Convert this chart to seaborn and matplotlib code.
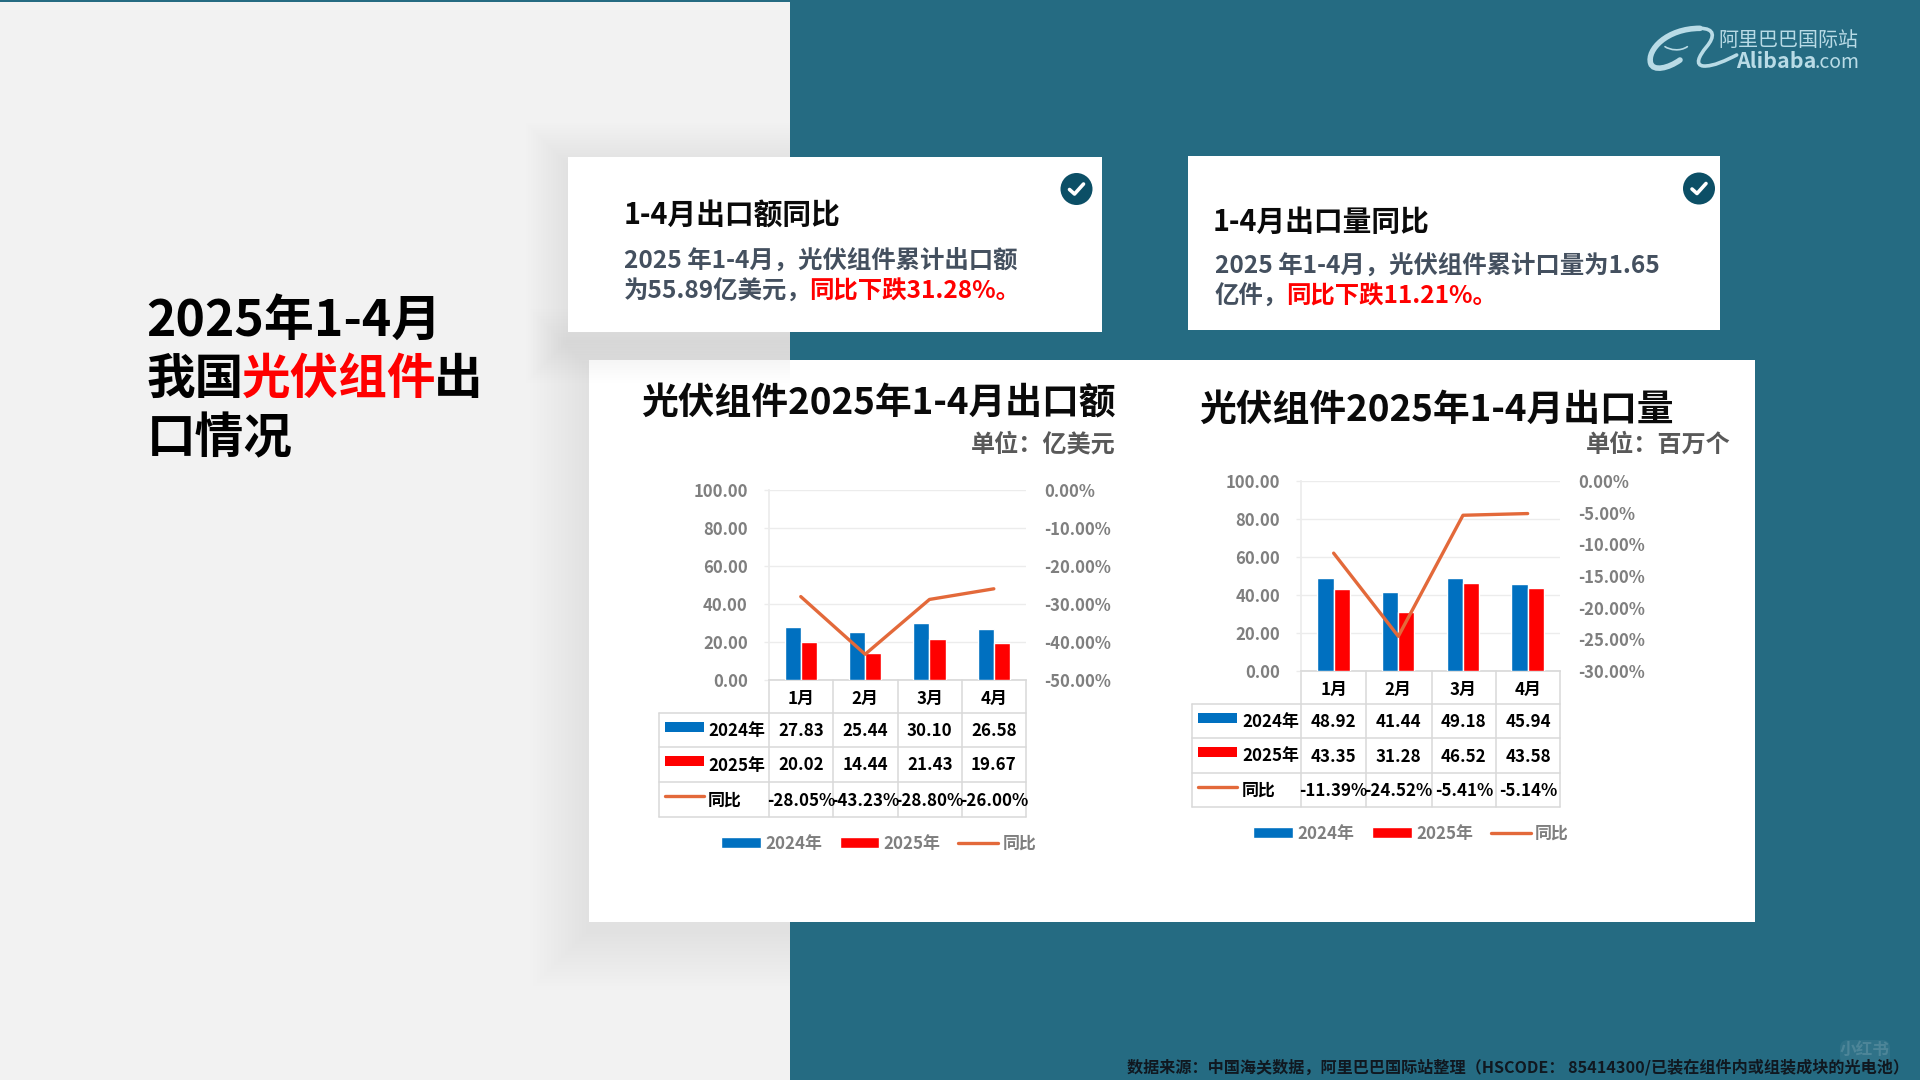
import pandas as pd
import matplotlib.pyplot as plt
import seaborn as sns
from matplotlib.patches import Rectangle, Circle, PathPatch, FancyBboxPatch
from matplotlib.path import Path

# data
months = ["1月", "2月", "3月", "4月"]
years = ["2024年", "2025年"]
yoy_name = "同比"

amount_2024 = [27.83, 25.44, 30.10, 26.58]
amount_2025 = [20.02, 14.44, 21.43, 19.67]
amount_yoy = [-28.05, -43.23, -28.80, -26.00]
amount_right_ticks = [0, -10, -20, -30, -40, -50]

volume_2024 = [48.92, 41.44, 49.18, 45.94]
volume_2025 = [43.35, 31.28, 46.52, 43.58]
volume_yoy = [-11.39, -24.52, -5.41, -5.14]
volume_right_ticks = [0, -5, -10, -15, -20, -25, -30]

left_ticks = [0, 20, 40, 60, 80, 100]

BLUE = "#0070c0"
RED = "#ff0000"
ORANGE = "#e3693a"
TEAL = "#256b82"
GRID = "#ececec"
BORDER = "#d9d9d9"
GREY = "#7f7f7f"

W, H = 1920, 1080

sns.set_theme(style="white")
plt.rcParams["font.family"] = ["Noto Sans CJK SC", "DejaVu Sans"]

fig = plt.figure(figsize=(19.2, 10.8), dpi=100)

# whole-slide layer in pixel coordinates
bg = fig.add_axes([0, 0, 1, 1], zorder=0)
bg.set_xlim(0, W)
bg.set_ylim(H, 0)
bg.axis("off")

bg.add_patch(Rectangle((0, 0), W, H, color=TEAL, lw=0))
bg.add_patch(Rectangle((0, 2), 790, H, color="#f2f2f2", lw=0))
left_half = Rectangle((0, 0), 790, H, transform=bg.transData)


def card(x0, y0, x1, y1, spread=3, alpha=0.005):
    # soft shadow (only shows on the light half) then the white panel
    for i in range(1, 18):
        e = i * spread
        sh = bg.add_patch(Rectangle((x0 - e, y0 - e + 8), x1 - x0 + 2 * e, y1 - y0 + 2 * e,
                                    color="black", alpha=alpha, lw=0))
        sh.set_clip_path(left_half)
    bg.add_patch(Rectangle((x0, y0), x1 - x0, y1 - y0, color="white", lw=0))


def check_icon(cx, cy):
    bg.add_patch(Circle((cx, cy), 16, color="#0c4f66", lw=0))
    bg.plot([cx - 7, cx - 2, cx + 7], [cy + 0.5, cy + 5, cy - 5], color="white", lw=2.6,
            solid_capstyle="round", solid_joinstyle="round")


card(589, 360, 1755, 922, spread=3.5)
card(568, 157, 1102, 332, spread=2.5)
card(1188, 156, 1720, 330, spread=2.5)
check_icon(1076.5, 189)
check_icon(1699, 188.5)

# left heading
head = dict(fontsize=35, fontweight="bold", va="center", ha="left")
bg.text(146, 321.5, "2025年1-4月", color="black", fontsize=36, fontweight="bold", va="center", ha="left")
bg.text(146.5, 379.5, "我国", color="black", **head)
bg.text(242, 379.5, "光伏组件", color=RED, **head)
bg.text(434, 379.5, "出", color="black", **head)
bg.text(146.5, 438.5, "口情况", color="black", **head)

# text cards
card_title = dict(fontsize=20.7, fontweight="bold", va="center", ha="left", color="#0a0a0a")
card_body = dict(fontsize=17.6, fontweight="bold", va="center", ha="left", color="#44505f")
card_red = dict(fontsize=17.6, fontweight="bold", va="center", ha="left", color=RED)

bg.text(624, 214.5, "1-4月出口额同比", **card_title)
bg.text(624, 262, "2025 年1-4月，光伏组件累计出口额", **card_body)
bg.text(624, 292, "为55.89亿美元，", **card_body)
bg.text(809, 292, "同比下跌31.28%。", **card_red)

bg.text(1213, 221.5, "1-4月出口量同比", **card_title)
bg.text(1215, 266.5, "2025 年1-4月，光伏组件累计口量为1.65", **card_body)
bg.text(1215, 297, "亿件，", **card_body)
bg.text(1286, 297, "同比下跌11.21%。", **card_red)

# logo
LOGO = "#b9dbe6"
bg.text(1718, 40, "阿里巴巴国际站", color=LOGO, fontsize=14.4, va="center", ha="left")
bg.text(1736, 62, "Alibaba", color=LOGO, fontsize=15.4, fontweight="bold", va="center", ha="left")
bg.text(1815, 62, ".com", color=LOGO, fontsize=14, va="center", ha="left")


def swoosh(points, lw):
    pts = [(1600 + x / 3, y / 3) for x, y in points]
    codes = [Path.MOVETO] + [Path.CURVE4] * (len(pts) - 1)
    bg.add_patch(PathPatch(Path(pts, codes), fill=False, edgecolor=LOGO, lw=lw, capstyle="round"))


swoosh([(300, 85), (200, 85), (140, 150), (152, 190), (160, 215), (205, 205), (240, 180)], 4)
swoosh([(195, 140), (210, 150), (240, 155), (262, 140)], 1.2)
swoosh([(300, 85), (345, 85), (345, 110), (320, 140), (295, 170), (285, 195), (310, 198),
        (340, 200), (380, 180), (410, 165)], 2.6)

# footer and watermark
bg.text(1127, 1067.5, "数据来源：中国海关数据，阿里巴巴国际站整理（HSCODE： 85414300/已装在组件内或组装成块的光电池）",
        color="#101820", fontsize=11.6, fontweight="bold", va="center", ha="left")
bg.add_patch(FancyBboxPatch((1840, 1040), 50, 24, boxstyle="round,pad=0,rounding_size=8",
                            color="white", alpha=0.05, lw=0))
bg.text(1865, 1050, "小红书", color="white", alpha=0.14, fontsize=12, fontweight="bold", va="center", ha="center")


def draw_chart(plot_box, cols, table_left, row_ys, key_x, label_x, title, title_xy, unit, unit_xy,
               legend_xy, left_pad, vals_a, vals_b, yoy, right_ticks):
    x0, y0, x1, y1 = plot_box
    ax = fig.add_axes([x0 / W, 1 - y1 / H, (x1 - x0) / W, (y1 - y0) / H], zorder=2)
    ax.patch.set_alpha(0)

    df = pd.DataFrame({
        "month": months * 2,
        "year": [years[0]] * 4 + [years[1]] * 4,
        "value": vals_a + vals_b,
    })
    sns.barplot(data=df, x="month", y="value", hue="year", palette=[BLUE, RED], width=0.5, gap=0,
                saturation=1, legend=False, ax=ax, zorder=3)
    ax.set_xlim(-0.5, 3.5)
    ax.set_ylim(0, 100)
    ax.set_yticks(left_ticks)
    ax.set_yticklabels([f"{v:.2f}" for v in left_ticks], color=GREY, fontsize=12, fontweight="bold")
    ax.tick_params(axis="y", length=3.6, width=1, color=GRID, pad=left_pad, left=True)
    ax.tick_params(axis="x", length=0, pad=7.5)
    for lab in ax.get_xticklabels():
        lab.set_fontsize(12.2)
        lab.set_fontweight("bold")
        lab.set_color("black")
    ax.set_xlabel("")
    ax.set_ylabel("")
    ax.grid(axis="y", color=GRID, lw=1, zorder=0)
    ax.set_axisbelow(True)
    sns.despine(ax=ax, top=True, right=True)
    ax.spines["left"].set_color(GRID)
    ax.spines["bottom"].set_color(BORDER)

    ax2 = ax.twinx()
    ax2.patch.set_alpha(0)
    sns.lineplot(x=months, y=yoy, color=ORANGE, lw=2.4, sort=False, errorbar=None, ax=ax2)
    ax2.set_ylim(min(right_ticks), 0)
    ax2.set_yticks(right_ticks)
    ax2.set_yticklabels([f"{v:.2f}%" for v in right_ticks], color=GREY, fontsize=12, fontweight="bold")
    ax2.tick_params(axis="y", length=0, pad=13, right=False)
    ax2.set_ylabel("")
    sns.despine(ax=ax2, top=True, right=True, left=True, bottom=True)

    handles = [ax.containers[0], ax.containers[1], ax2.get_lines()[0]]
    leg = ax2.legend(handles, years + [yoy_name], loc="center", ncol=3, frameon=False,
                     bbox_to_anchor=(legend_xy[0] / W, 1 - legend_xy[1] / H),
                     bbox_transform=fig.transFigure, fontsize=12.2, handlelength=2.35,
                     handleheight=0.55, handletextpad=0.25, columnspacing=1.05)
    for t in leg.get_texts():
        t.set_color(GREY)
        t.set_fontweight("bold")

    # data table under the plot, in slide pixels
    for x in cols:
        bg.plot([x, x], [row_ys[0], row_ys[-1]], color=BORDER, lw=1.1, zorder=3)
    bg.plot([table_left, table_left], [row_ys[1], row_ys[-1]], color=BORDER, lw=1.1, zorder=3)
    for y in row_ys[1:]:
        bg.plot([table_left, cols[-1]], [y, y], color=BORDER, lw=1.1, zorder=3)

    rows = [[f"{v:.2f}" for v in vals_a], [f"{v:.2f}" for v in vals_b], [f"{v:.2f}%" for v in yoy]]
    labels = years + [yoy_name]
    for r, row in enumerate(rows):
        yc = (row_ys[r + 1] + row_ys[r + 2]) / 2 + 1
        bg.text(label_x, yc, labels[r], fontsize=12.2, fontweight="bold", color="black",
                ha="left", va="center", zorder=4)
        for c, txt in enumerate(row):
            bg.text((cols[c] + cols[c + 1]) / 2, yc, txt, fontsize=12.2, fontweight="bold", color="black",
                    ha="center", va="center", zorder=4)
        if r < 2:
            bg.add_patch(Rectangle((key_x, yc - 9.5), 39, 10, color=[BLUE, RED][r], lw=0, zorder=4))
        else:
            bg.plot([key_x, key_x + 39], [yc - 4.5, yc - 4.5], color=ORANGE, lw=2.4, zorder=4)

    bg.text(title_xy[0], title_xy[1], title, fontsize=26.5, fontweight="bold", color="#0a0a0a",
            ha="right", va="center")
    bg.text(unit_xy[0], unit_xy[1], unit, fontsize=17.4, fontweight="bold", color="#595959",
            ha="right", va="center")


draw_chart((768.6, 490, 1026, 680), [768.6, 833, 897.5, 962, 1026], 659, [680, 713, 747, 782, 817],
           665, 708, "光伏组件2025年1-4月出口额", (1116, 403.5), "单位：亿美元", (1116, 444.5), (878.5, 843.5), 11.5,
           amount_2024, amount_2025, amount_yoy, amount_right_ticks)

draw_chart((1301.3, 481, 1560, 671), [1301.3, 1365.6, 1431.5, 1496, 1560], 1192, [671, 704, 738, 773, 807],
           1198, 1242, "光伏组件2025年1-4月出口量", (1674, 410.5), "单位：百万个", (1731, 444.5), (1411, 833.5), 11.5,
           volume_2024, volume_2025, volume_yoy, volume_right_ticks)

fig.savefig("out.png", dpi=100)
